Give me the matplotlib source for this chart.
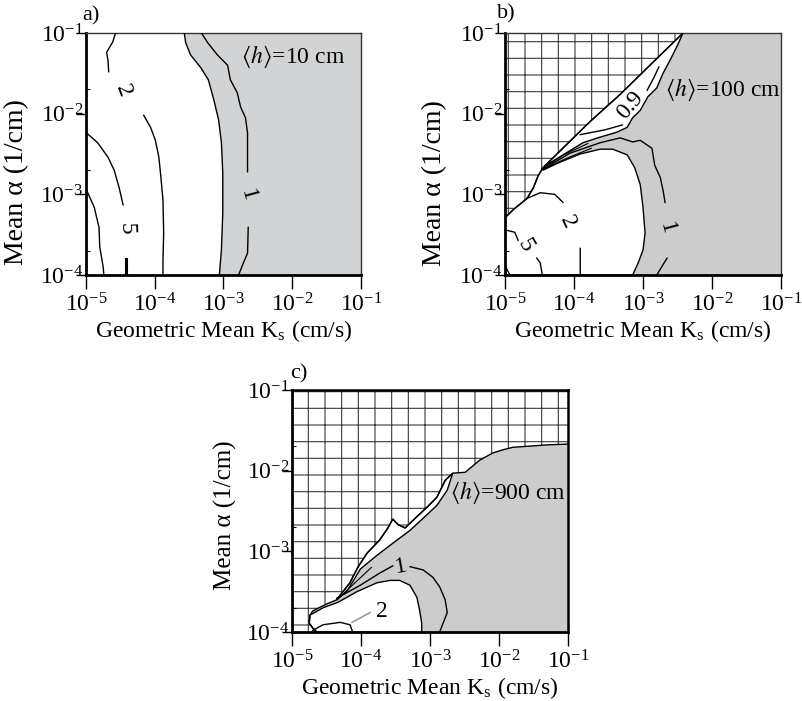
import numpy as np
import matplotlib
matplotlib.use('Agg')
import matplotlib.pyplot as plt
from matplotlib.ticker import LogLocator, NullFormatter

plt.rcParams['font.family'] = ['Liberation Serif', 'DejaVu Serif']
plt.rcParams['mathtext.fontset'] = 'stix'
plt.rcParams['hatch.linewidth'] = 0.8

nan = np.nan
# every curve is kept as log10(Ks), log10(alpha) pairs

# a) <h> = 10 cm
A_EDGE_KS = [-3.57, -3.55, -3.48, -3.33, -3.22, -3.14, -3.07, -3.03, -3.01, -3.01, -3.03, -3.06]
A_EDGE_ALPHA = [-1.0, -1.12, -1.27, -1.43, -1.58, -1.83, -2.08, -2.36, -2.74, -3.23, -3.69, -4.0]
A_C1_KS = [-3.32, -3.23, -3.09, -2.94, -2.90, -2.80, -2.75, -2.68, -2.65, -2.65, nan, -2.64, -2.65, -2.71, -2.78]
A_C1_ALPHA = [-1.0, -1.12, -1.27, -1.40, -1.58, -1.74, -1.92, -2.05, -2.24, -2.72, nan, -3.41, -3.73, -3.85, -4.0]
A_C2_KS = [-4.57, -4.61, -4.70, -4.68, -4.67, nan, -4.16, -4.06, -3.99, -3.94, -3.91, -3.88, -3.87, -3.88, -3.88]
A_C2_ALPHA = [-1.0, -1.11, -1.24, -1.34, -1.48, nan, -2.02, -2.17, -2.33, -2.54, -2.79, -3.07, -3.48, -3.81, -4.0]
A_C5_KS = [-4.99, -4.83, -4.68, -4.59, -4.52, -4.46]
A_C5_ALPHA = [-2.24, -2.36, -2.54, -2.70, -2.91, -3.13]
A_C5_STUB_KS = [-4.42, -4.42]
A_C5_STUB_ALPHA = [-3.80, -4.0]
A_C10_KS = [-4.99, -4.88, -4.81, -4.80, -4.75, -4.74]
A_C10_ALPHA = [-2.95, -3.16, -3.41, -3.65, -3.90, -4.0]

# b) <h> = 100 cm
B_DIAG_KS = [-5.0, -4.88, -4.68, -4.59, -4.52, -4.45, -4.20, -3.77, -3.33, -2.90, -2.42]
B_DIAG_ALPHA = [-3.29, -3.19, -3.05, -2.92, -2.77, -2.67, -2.46, -2.10, -1.76, -1.40, -1.0]
B_EDGE_KS = [-2.42, -2.51, -2.61, -2.71, -2.80, -2.93, -3.04, -3.15, -3.23, -3.38, -3.62, -3.87, -4.10, -4.35, -4.45]
B_EDGE_ALPHA = [-1.0, -1.17, -1.34, -1.50, -1.68, -1.79, -1.96, -2.05, -2.17, -2.23, -2.29, -2.36, -2.48, -2.61, -2.67]
B_BLOB_KS = [-4.45, -4.20, -3.91, -3.62, -3.44, -3.23, -3.12, -3.04, -3.0, -2.97, -3.0, -3.07, -3.15]
B_BLOB_ALPHA = [-2.70, -2.60, -2.50, -2.44, -2.44, -2.51, -2.67, -2.88, -3.16, -3.48, -3.69, -3.85, -4.0]
B_C1_KS = [-4.45, -4.06, -3.62, -3.33, -3.15, -3.04, -2.87, -2.83, -2.75, -2.71, -2.68, nan, -2.65, -2.73, -2.80]
B_C1_ALPHA = [-2.69, -2.49, -2.36, -2.30, -2.35, -2.33, -2.43, -2.64, -2.79, -2.95, -3.10, nan, -3.79, -3.90, -4.0]
B_FAN1_KS = [-4.45, -4.15, -3.80]
B_FAN1_ALPHA = [-2.68, -2.51, -2.37]
B_FAN2_KS = [-4.45, -4.10, -3.75]
B_FAN2_ALPHA = [-2.69, -2.55, -2.43]
B_C09_KS = [-3.91, -3.55, -3.30, nan, -2.94, -2.84, -2.77]
B_C09_ALPHA = [-2.26, -2.20, -2.14, nan, -1.71, -1.55, -1.42]
B_C2_KS = [-4.68, -4.49, -4.28, -4.16, nan, -3.91, -3.91]
B_C2_ALPHA = [-3.05, -2.98, -3.00, -3.10, nan, -3.67, -4.0]
B_C5_KS = [-5.0, -4.86, -4.81, nan, -4.54, -4.49, -4.46]
B_C5_ALPHA = [-3.44, -3.47, -3.57, nan, -3.79, -3.85, -4.0]
B_CORNER_KS = [-4.99, -4.93]
B_CORNER_ALPHA = [-3.90, -4.0]

# c) <h> = 900 cm
C_HATCH_KS = [-1.0, -1.30, -1.80, -1.94, -2.09, -2.28, -2.42, -2.49, -2.67, -2.78, -2.90, -3.04, -3.19, -3.36, -3.46,
              -3.54, -3.61, -3.73, -3.91, -4.04, -4.12, -4.16, -4.28, -4.35, -4.49, -4.59, -4.70, -4.74, -4.75, -4.70, -4.64]
C_HATCH_ALPHA = [-1.67, -1.68, -1.71, -1.74, -1.78, -1.87, -1.97, -2.02, -2.03, -2.12, -2.33, -2.45, -2.57, -2.71, -2.67,
                 -2.60, -2.71, -2.86, -3.02, -3.19, -3.32, -3.39, -3.52, -3.60, -3.65, -3.69, -3.74, -3.79, -3.89, -3.95, -4.0]
C_SLIVER_LOW_KS = [-4.35, -4.20, -4.01, -3.77, -3.54, -3.29, -3.10, -2.90, -2.75, -2.67]
C_SLIVER_LOW_ALPHA = [-3.60, -3.49, -3.22, -3.05, -2.90, -2.74, -2.59, -2.43, -2.24, -2.03]
C_BLOB_KS = [-4.74, -4.55, -4.33, -4.06, -3.77, -3.58, -3.44, -3.29, -3.19, -3.15, -3.12, -3.12]
C_BLOB_ALPHA = [-3.79, -3.70, -3.63, -3.50, -3.39, -3.36, -3.36, -3.42, -3.57, -3.73, -3.89, -4.0]
C_C1_KS = [-4.35, -4.01, -3.73, -3.54, nan, -3.29, -3.10, -2.96, -2.86, -2.78, -2.75, -2.81, -2.86]
C_C1_ALPHA = [-3.58, -3.42, -3.27, -3.18, nan, -3.19, -3.23, -3.32, -3.44, -3.60, -3.76, -3.89, -4.0]
C_FAN_KS = [-4.35, -4.10, -3.85]
C_FAN_ALPHA = [-3.60, -3.40, -3.20]
C_C2_KS = [-4.70, -4.55, -4.30, -4.16, -4.12]
C_C2_ALPHA = [-3.98, -3.91, -3.88, -3.91, -4.0]
C_LEADER_KS = [-4.13, -3.87]
C_LEADER_ALPHA = [-3.88, -3.76]

XTICKS = [1e-5, 1e-4, 1e-3, 1e-2, 1e-1]
YTICKS = [1e-4, 1e-3, 1e-2, 1e-1]
XLIM = (1e-5, 1e-1)
YLIM = (1e-4, 1e-1)
HATCH_INK = '#3a3a3a'


def P(v):
    return 10.0 ** np.asarray(v, dtype=float)


def setup(ax, gray, ylab_size, ylab_pos, thin_top=True):
    ax.set_xscale('log')
    ax.set_yscale('log')
    ax.set_xlim(*XLIM)
    ax.set_ylim(*YLIM)
    ax.set_facecolor(gray)
    ax.set_xticks(XTICKS)
    ax.set_yticks(YTICKS)
    ax.xaxis.set_minor_locator(LogLocator(base=10, subs=(3.0,)))
    ax.yaxis.set_minor_locator(LogLocator(base=10, subs=(2.0,)))
    ax.xaxis.set_minor_formatter(NullFormatter())
    ax.yaxis.set_minor_formatter(NullFormatter())
    ax.tick_params(axis='x', which='major', direction='out', length=10, width=1, pad=3, labelsize=17)
    ax.tick_params(axis='y', which='major', direction='out', length=7, width=1, pad=-5, labelsize=17)
    ax.tick_params(which='minor', direction='in', length=3, width=0.8)
    for s in ['left', 'bottom']:
        ax.spines[s].set_linewidth(2.0)
    for s in ['top', 'right']:
        ax.spines[s].set_linewidth(1.0 if thin_top else 1.8)
        ax.spines[s].set_color('#333333' if thin_top else 'black')
    ax.set_xlabel('Geometric Mean K$_\\mathregular{s}$ (cm/s)', fontsize=17, labelpad=1)
    ax.set_ylabel('Mean α (1/cm)', fontsize=ylab_size)
    ax.yaxis.set_label_coords(*ylab_pos)


def line(ax, ks, al, lw=1.0, color='black'):
    ax.plot(P(ks), P(al), color=color, lw=lw, zorder=3)


def hatched(ax, ks, al):
    ax.fill(P(ks), P(al), facecolor='white', edgecolor=HATCH_INK, hatch='+', lw=0, zorder=1)


def white(ax, ks, al):
    ax.fill(P(ks), P(al), facecolor='white', edgecolor='black', lw=1.0, zorder=1)


def clabel(ax, x, y, s, rot=0):
    ax.text(P(x), P(y), s, fontsize=17, rotation=rot, ha='center', va='center',
            rotation_mode='anchor', zorder=4)


def panel_a(ax):
    setup(ax, '#d1d3d4', 20, (-0.207, 0.384))
    ks = A_EDGE_KS + [-5.0, -5.0]
    al = A_EDGE_ALPHA + [-4.0, -1.0]
    ax.fill(P(ks), P(al), facecolor='white', edgecolor='none', zorder=1)
    line(ax, A_EDGE_KS, A_EDGE_ALPHA)
    line(ax, A_C1_KS, A_C1_ALPHA)
    line(ax, A_C2_KS, A_C2_ALPHA)
    line(ax, A_C5_KS, A_C5_ALPHA)
    line(ax, A_C5_STUB_KS, A_C5_STUB_ALPHA, lw=2.2)
    line(ax, A_C10_KS, A_C10_ALPHA)
    clabel(ax, -4.46, -1.71, '2', -70)
    clabel(ax, -4.42, -3.42, '5', -88)
    clabel(ax, -2.64, -3.01, '1', -75)
    ax.text(0.753, 0.901, r'$\langle h\rangle$=10 cm', transform=ax.transAxes,
            fontsize=17, ha='center', va='center')
    ax.text(0.018, 1.072, 'a)', transform=ax.transAxes, fontsize=16, ha='center', va='center')


def panel_b(ax):
    setup(ax, '#cccccc', 20, (-0.210, 0.380))
    # hatched corner above the diagonal
    hatched(ax, B_DIAG_KS + [-5.0], B_DIAG_ALPHA + [-1.0])
    line(ax, B_DIAG_KS, B_DIAG_ALPHA)
    # thin white band labelled 0.9
    white(ax, B_DIAG_KS[5:] + B_EDGE_KS, B_DIAG_ALPHA[5:] + B_EDGE_ALPHA)
    # white region in the lower left
    white(ax, B_DIAG_KS[:6] + B_BLOB_KS + [-5.0], B_DIAG_ALPHA[:6] + B_BLOB_ALPHA + [-4.0])
    line(ax, B_C1_KS, B_C1_ALPHA)
    line(ax, B_FAN1_KS, B_FAN1_ALPHA, lw=0.8)
    line(ax, B_FAN2_KS, B_FAN2_ALPHA, lw=0.8)
    line(ax, B_C09_KS, B_C09_ALPHA)
    line(ax, B_C2_KS, B_C2_ALPHA)
    line(ax, B_C5_KS, B_C5_ALPHA)
    line(ax, B_CORNER_KS, B_CORNER_ALPHA)
    clabel(ax, -3.19, -1.90, '0.9', 50)
    clabel(ax, -2.65, -3.42, '1', -75)
    clabel(ax, -4.09, -3.34, '2', -65)
    clabel(ax, -4.71, -3.63, '5', -60)
    ax.text(0.79, 0.764, r'$\langle h\rangle$=100 cm', transform=ax.transAxes,
            fontsize=17, ha='center', va='center')
    ax.text(0.004, 1.078, 'b)', transform=ax.transAxes, fontsize=16, ha='center', va='center')


def panel_c(ax):
    setup(ax, '#cccccc', 18, (-0.199, 0.483), thin_top=False)
    hatched(ax, C_HATCH_KS + [-5.0, -5.0, -1.0], C_HATCH_ALPHA + [-4.0, -1.0, -1.0])
    line(ax, C_HATCH_KS, C_HATCH_ALPHA)
    # white sliver between the hatch and the grey area
    white(ax, C_HATCH_KS[8:24] + C_SLIVER_LOW_KS, C_HATCH_ALPHA[8:24] + C_SLIVER_LOW_ALPHA)
    # white blob near the bottom
    white(ax, C_BLOB_KS + C_HATCH_KS[:-5:-1], C_BLOB_ALPHA + C_HATCH_ALPHA[:-5:-1])
    line(ax, C_C1_KS, C_C1_ALPHA)
    line(ax, C_FAN_KS, C_FAN_ALPHA, lw=0.8)
    line(ax, C_C2_KS, C_C2_ALPHA)
    line(ax, C_LEADER_KS, C_LEADER_ALPHA, color='#999999', lw=1.2)
    clabel(ax, -3.43, -3.19, '1', 10)
    clabel(ax, -3.70, -3.75, '2', 0)
    ax.text(0.783, 0.574, r'$\langle h\rangle$=900 cm', transform=ax.transAxes,
            fontsize=17, ha='center', va='center')
    ax.text(0.025, 1.068, 'c)', transform=ax.transAxes, fontsize=16, ha='center', va='center')


def main():
    fig = plt.figure(figsize=(8.02, 7.01), dpi=100)
    ax_a = fig.add_axes([0.1072, 0.6077, 0.3429, 0.3452])
    ax_b = fig.add_axes([0.6297, 0.6077, 0.3441, 0.3452])
    ax_c = fig.add_axes([0.3641, 0.0984, 0.3441, 0.3452])
    panel_a(ax_a)
    panel_b(ax_b)
    panel_c(ax_c)
    fig.savefig('out.png', dpi=100)


if __name__ == "__main__":
    main()
